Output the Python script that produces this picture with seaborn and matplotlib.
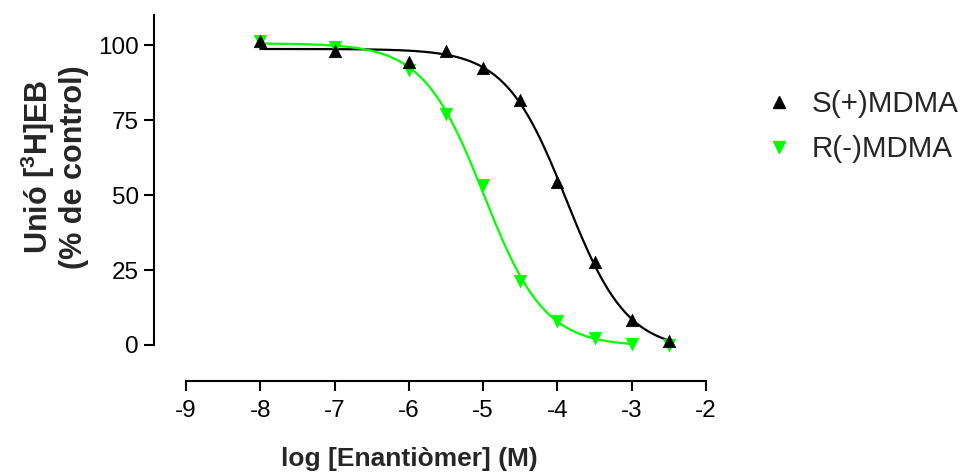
import numpy as np
import pandas as pd
import matplotlib
matplotlib.use("Agg")
import matplotlib.pyplot as plt
from matplotlib.lines import Line2D
import seaborn as sns

# Binding data: log molar concentration vs. % of control binding
log_conc = [-8, -7, -6, -5.5, -5, -4.5, -4, -3.5, -3, -2.5]
s_mdma = [101.4, 98.1, 94.4, 98.1, 92.3, 81.6, 54.5, 27.8, 8.4, 1.3]
r_mdma = [101.5, 99.5, 91.8, 76.9, 53.2, 21.2, 8.0, 2.4, 0.2, 0.0]
series_names = ["S(+)MDMA", "R(-)MDMA"]
series_colors = ["#000000", "#00FF00"]
series_markers = ["^", "v"]
curve_ranges = [(-8, -2.5), (-8, -3)]
x_ticks = [-9, -8, -7, -6, -5, -4, -3, -2]
y_ticks = [0, 25, 50, 75, 100]


def fit_sigmoid(x, y):
    """Four-parameter logistic fit: grid over logIC50 and Hill slope,
    top/bottom solved by linear least squares."""
    x = np.asarray(x, float)
    y = np.asarray(y, float)
    best = None
    for lic in np.linspace(-7, -2, 501):
        for h in np.linspace(0.5, 2.0, 151):
            f = 1.0 / (1.0 + 10 ** ((x - lic) * h))
            A = np.column_stack([np.ones_like(f), f])
            coef, *_ = np.linalg.lstsq(A, y, rcond=None)
            res = np.sum((A @ coef - y) ** 2)
            if best is None or res < best[0]:
                best = (res, lic, h, coef)
    _, lic, h, (bottom, span) = best
    return lambda xx: bottom + span / (1.0 + 10 ** ((np.asarray(xx) - lic) * h))


sns.set_style("white")
plt.rcParams["font.family"] = ["Liberation Sans", "DejaVu Sans"]
plt.rcParams["mathtext.fontset"] = "custom"
plt.rcParams["mathtext.rm"] = "Liberation Sans:bold"
plt.rcParams["mathtext.bf"] = "Liberation Sans:bold"

fig = plt.figure(figsize=(9.66, 4.72), dpi=100)
ax = fig.add_axes([0.1594, 0.1928, 0.7308 - 0.1594, 0.9682 - 0.1928])

points = pd.DataFrame({
    "log_conc": log_conc * 2,
    "binding": s_mdma + r_mdma,
    "series": [series_names[0]] * len(log_conc) + [series_names[1]] * len(log_conc),
})

# fitted dose-response curves
for name, color, (x0, x1), vals in zip(series_names, series_colors,
                                       curve_ranges, [s_mdma, r_mdma]):
    model = fit_sigmoid(log_conc, vals)
    xs = np.linspace(x0, x1, 300)
    curve = pd.DataFrame({"x": xs, "y": model(xs)})
    sns.lineplot(data=curve, x="x", y="y", color=color, linewidth=1.6, ax=ax,
                 legend=False)

# data points: R(-) underneath, S(+) on top
for name, color, marker in list(zip(series_names, series_colors,
                                    series_markers))[::-1]:
    sub = points[points["series"] == name]
    sns.scatterplot(data=sub, x="log_conc", y="binding", color=color,
                    marker=marker, s=80, edgecolor=color, linewidth=0.5,
                    ax=ax, legend=False, zorder=3)

ax.set_xlim(-9.43, -2)
ax.set_ylim(-12, 110)
ax.set_xticks(x_ticks)
ax.set_xticklabels([str(t) for t in x_ticks])
ax.set_yticks(y_ticks)

for side in ["top", "right"]:
    ax.spines[side].set_visible(False)
for side in ["left", "bottom"]:
    ax.spines[side].set_linewidth(1.5)
    ax.spines[side].set_color("black")
ax.spines["left"].set_bounds(0, 110)
ax.spines["bottom"].set_bounds(-9, -2)

ax.tick_params(axis="both", which="major", direction="out", length=7,
               width=1.5, color="black", labelsize=17.5, labelcolor="black")
ax.tick_params(axis="x", pad=7)
ax.tick_params(axis="y", pad=4)
ax.tick_params(left=True, bottom=True)
ax.grid(False)

ax.set_xlabel("log [Enantiòmer] (M)", fontsize=19, fontweight="bold")
ax.xaxis.set_label_coords(0.463, -0.213)
ax.xaxis.label.set_va("center")
ax.set_ylabel("Unió [$^{3}$H]EB\n(% de control)", fontsize=22,
              fontweight="bold", linespacing=1.08)
ax.yaxis.set_label_coords(-0.181, 0.585)
ax.yaxis.label.set_va("center")

handles = [Line2D([], [], linestyle="none", marker=m, color=c, markersize=9)
           for m, c in zip(series_markers, series_colors)]
ax.legend(handles, series_names, loc="center left",
          bbox_to_anchor=(0.764, 0.732), bbox_transform=fig.transFigure,
          frameon=False, fontsize=21.3, handletextpad=0.6, labelspacing=0.57,
          handlelength=1.0)

fig.savefig("out.png", dpi=100)
